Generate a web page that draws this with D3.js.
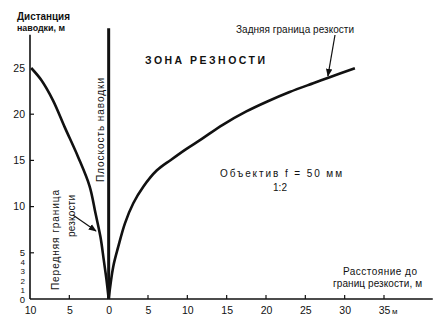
<!DOCTYPE html>
<html>
<head>
<meta charset="utf-8">
<script src="https://cdn.jsdelivr.net/npm/d3@7"></script>
<style>
  html, body { margin: 0; padding: 0; background: #fff; }
  svg { display: block; }
  text { font-family: "Liberation Sans", Arial, sans-serif; fill: #111; }
</style>
</head>
<body>
<svg id="chart" width="440" height="324"></svg>
<script>
// Front boundary of sharpness: distance in front of the focus plane (m, negative = toward camera)
const frontDistance = [-9.85, -8.57, -7.08, -5.59, -3.90, -2.42, -1.68, -1.04, -0.62, -0.28, 0];
const frontFocus    = [25, 23.7, 21.5, 18.6, 15.4, 12.2, 9.3, 6.7, 4.2, 2.1, 0];

// Back boundary of sharpness: distance behind the focus plane (m)
const backDistance = [0, 0.58, 1.22, 2.07, 3.13, 4.40, 6.10, 7.9, 9.8, 11.8, 14.5, 17.5, 20.1, 23.0, 26.0, 28.1, 31.3];
const backFocus    = [0, 3.5, 5.66, 8.19, 10.36, 12.15, 13.9, 15.05, 16.2, 17.3, 18.85, 20.3, 21.35, 22.4, 23.35, 24.0, 24.97];

// Axis ticks
const xTicks = [-10, -5, 0, 5, 10, 15, 20, 25, 30, 35];
const yTickMarks = [5, 10, 15, 20];
const yTickLabels = [0, 1, 2, 3, 4, 5, 10, 15, 20, 25];
const yMinorLabels = [1, 2, 3, 4];

const svg = d3.select("#chart");
const ink = "#111";

const x = d3.scaleLinear().domain([-10, 35]).range([30, 384]);
const y = d3.scaleLinear().domain([0, 25]).range([299, 68]);

const xAxisEnd = 41.2;   // m, where the distance axis line stops
const yAxisTop = 28.6;   // m, where the focus axis line stops
const focusPlaneTop = 29.3;

// Axes lines
svg.append("line")
  .attr("x1", x(-10)).attr("x2", x(xAxisEnd))
  .attr("y1", y(0)).attr("y2", y(0))
  .attr("stroke", ink).attr("stroke-width", 1.6);
svg.append("line")
  .attr("x1", x(-10)).attr("x2", x(-10))
  .attr("y1", y(0)).attr("y2", y(yAxisTop))
  .attr("stroke", ink).attr("stroke-width", 1.6);

// X ticks (pointing up) and labels (absolute distance)
const xAxis = d3.axisBottom(x).tickValues(xTicks).tickSize(0)
  .tickFormat(d => String(Math.abs(d)));
const gx = svg.append("g").attr("transform", `translate(0,${y(0)})`).call(xAxis);
gx.select(".domain").remove();
gx.selectAll("text").attr("dy", 0).attr("y", 15).style("font-size", "10.5px")
  .style("font-family", "Liberation Sans, Arial, sans-serif").attr("fill", ink);
svg.append("g").selectAll("line").data(xTicks.filter(d => d !== -10 && d !== 0))
  .join("line")
  .attr("x1", d => x(d)).attr("x2", d => x(d))
  .attr("y1", y(0)).attr("y2", y(0) - 4)
  .attr("stroke", ink).attr("stroke-width", 1.2);
svg.append("text").attr("x", x(35) + 8).attr("y", y(0) + 15)
  .style("font-size", "8px").text("м");

// Y ticks (pointing right) and labels
const yAxis = d3.axisLeft(y).tickValues(yTickLabels).tickSize(0).tickPadding(5);
const gy = svg.append("g").attr("transform", `translate(${x(-10)},0)`).call(yAxis);
gy.select(".domain").remove();
gy.selectAll("text")
  .style("font-size", d => yMinorLabels.includes(d) ? "8px" : (d <= 5 ? "9.5px" : "10.5px"))
  .style("font-family", "Liberation Sans, Arial, sans-serif").attr("fill", ink);
svg.append("g").selectAll("line").data(yTickMarks).join("line")
  .attr("x1", x(-10)).attr("x2", x(-10) + 4)
  .attr("y1", d => y(d)).attr("y2", d => y(d))
  .attr("stroke", ink).attr("stroke-width", 1.2);

// Focus plane
svg.append("line")
  .attr("x1", x(0)).attr("x2", x(0))
  .attr("y1", y(0)).attr("y2", y(focusPlaneTop))
  .attr("stroke", ink).attr("stroke-width", 3);

// Boundary curves
const line = d3.line().x(d => x(d[0])).y(d => y(d[1])).curve(d3.curveCatmullRom.alpha(0.5));
svg.append("path").datum(d3.zip(frontDistance, frontFocus))
  .attr("d", line).attr("fill", "none").attr("stroke", ink).attr("stroke-width", 2.6);
svg.append("path").datum(d3.zip(backDistance, backFocus))
  .attr("d", line).attr("fill", "none").attr("stroke", ink).attr("stroke-width", 2.6);

// Arrow marker for the annotations
svg.append("defs").append("marker")
  .attr("id", "arrow").attr("viewBox", "0 0 10 10")
  .attr("refX", 9).attr("refY", 5)
  .attr("markerWidth", 8).attr("markerHeight", 8)
  .attr("markerUnits", "userSpaceOnUse")
  .attr("orient", "auto")
  .append("path").attr("d", "M0,1 L10,5 L0,9 Z").attr("fill", ink);

svg.append("line")
  .attr("x1", x(-4.54)).attr("y1", y(9.09))
  .attr("x2", x(-1.61)).attr("y2", y(7.36))
  .attr("stroke", ink).attr("stroke-width", 1.2).attr("marker-end", "url(#arrow)");
svg.append("line")
  .attr("x1", x(28.77)).attr("y1", y(28.57))
  .attr("x2", x(27.87)).attr("y2", y(24.13))
  .attr("stroke", ink).attr("stroke-width", 1.2).attr("marker-end", "url(#arrow)");

// Labels
function label(txt, px, py, opts = {}) {
  const t = svg.append("text").attr("x", px).attr("y", py)
    .style("font-size", (opts.size || 10) + "px")
    .style("font-weight", opts.weight || "normal")
    .text(txt);
  if (opts.anchor) t.attr("text-anchor", opts.anchor);
  if (opts.len) t.attr("textLength", opts.len).attr("lengthAdjust", opts.adjust || "spacing");
  if (opts.rotate) t.attr("transform", `rotate(-90,${px},${py})`);
  return t;
}

label("Дистанция", 17, 20, { size: 10, weight: "bold", len: 53, adjust: "spacingAndGlyphs" });
label("наводки, м", 17, 31, { size: 9.5, weight: "bold", len: 48, adjust: "spacingAndGlyphs" });

label("ЗОНА РЕЗНОСТИ", 145, 64, { size: 10.5, weight: "bold", len: 120 });
label("Задняя граница резкости", 236, 33, { size: 10, len: 118 });

label("Объектив f = 50 мм", 220, 177, { size: 10, len: 122 });
label("1:2", 280, 191, { size: 10, anchor: "middle" });

label("Расстояние до", 343, 275, { size: 10, len: 74 });
label("границ резкости, м", 333, 287, { size: 10, len: 89 });

label("Плоскость наводки", 104, 182, { size: 10, rotate: true, len: 104 });
label("Передняя граница", 59, 290, { size: 10, rotate: true, len: 100 });
label("резкости", 75, 237, { size: 10, rotate: true, len: 42 });
</script>
</body>
</html>
